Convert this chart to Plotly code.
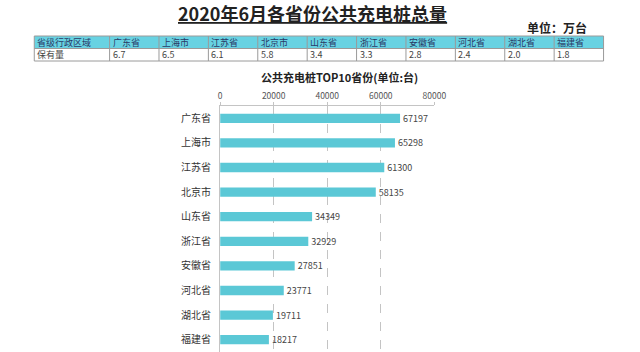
import plotly.graph_objects as go

provinces = ["广东省", "上海市", "江苏省", "北京市", "山东省", "浙江省", "安徽省", "河北省", "湖北省", "福建省"]
counts = [67197, 65298, 61300, 58135, 34349, 32929, 27851, 23771, 19711, 18217]
stock_wan = ["6.7", "6.5", "6.1", "5.8", "3.4", "3.3", "2.8", "2.4", "2.0", "1.8"]
table_head = "省级行政区域"
table_row = "保有量"
x_ticks = [0, 20000, 40000, 60000, 80000]

W, H = 640, 352
FONT = "Noto Sans CJK SC"

def px(x):
    return x / W

def py(y):
    return 1 - y / H

fig = go.Figure()

fig.add_trace(go.Bar(
    x=counts, y=provinces, orientation="h",
    marker=dict(color="#5bc8d6", line=dict(width=0)),
    width=0.38,
    text=[str(c) for c in counts], textposition="outside",
    textfont=dict(family=FONT, size=9, color="#444"),
    constraintext="none",
    cliponaxis=False,
))

# ---- table drawn with shapes + annotations (paper coords built from arrays) ----
tbl_left, first_w, col_w = 33, 77, 50.5
row_top, row_h = 36, 12.5
headers = [table_head] + provinces
row_vals = [table_row] + stock_wan
col_edges = [tbl_left, tbl_left + first_w] + [tbl_left + first_w + col_w * (i + 1) for i in range(len(provinces))]
tbl_right = col_edges[-1]
shapes = []
annots = []
line_c = "#9a9a9a"
shapes.append(dict(type="rect", xref="paper", yref="paper",
                   x0=px(tbl_left), x1=px(tbl_right), y0=py(row_top + row_h), y1=py(row_top),
                   fillcolor="#68d2e2", line=dict(width=0), layer="below"))
for r in range(3):
    yy = row_top + r * row_h
    shapes.append(dict(type="line", xref="paper", yref="paper",
                       x0=px(tbl_left), x1=px(tbl_right), y0=py(yy), y1=py(yy),
                       line=dict(color=line_c, width=1)))
for xe in col_edges:
    shapes.append(dict(type="line", xref="paper", yref="paper",
                       x0=px(xe), x1=px(xe), y0=py(row_top), y1=py(row_top + 2 * row_h),
                       line=dict(color=line_c, width=1)))
for i in range(len(headers)):
    xl = col_edges[i] + 2
    annots.append(dict(text=headers[i], x=px(xl), y=py(row_top + row_h / 2),
                       xref="paper", yref="paper", xanchor="left", yanchor="middle",
                       showarrow=False, borderpad=0,
                       font=dict(family=FONT, size=9, color="#2a3a66")))
    annots.append(dict(text=row_vals[i], x=px(xl), y=py(row_top + row_h * 1.5),
                       xref="paper", yref="paper", xanchor="left", yanchor="middle",
                       showarrow=False, borderpad=0,
                       font=dict(family=FONT, size=9, color="#444")))

annots += [
    dict(text="<b><u>2020年6月各省份公共充电桩总量</u></b>", x=px(317), y=py(13),
         xref="paper", yref="paper", xanchor="center", yanchor="middle",
         showarrow=False, font=dict(family=FONT, size=18, color="#222")),
    dict(text="<b>单位：万台</b>", x=px(599), y=py(27.5),
         xref="paper", yref="paper", xanchor="right", yanchor="middle",
         showarrow=False, borderpad=0, font=dict(family=FONT, size=12, color="#222")),
    dict(text="<b>公共充电桩TOP10省份(单位:台)</b>", x=px(345), y=py(77),
         xref="paper", yref="paper", xanchor="center", yanchor="middle",
         showarrow=False, font=dict(family=FONT, size=11, color="#222")),
]

fig.update_layout(
    width=W, height=H,
    margin=dict(l=0, r=0, t=0, b=0),
    paper_bgcolor="white", plot_bgcolor="white",
    showlegend=False,
    font=dict(family=FONT),
    shapes=shapes,
    annotations=annots,
    xaxis=dict(
        domain=[px(223), px(442)], side="top", range=[0, 80000],
        tickvals=x_ticks, tickformat="d",
        showgrid=True, gridcolor="#c4c4c4", griddash="dash", gridwidth=1,
        showline=True, linecolor="#c4c4c4", zeroline=False,
        ticks="outside", ticklen=3, tickcolor="#c4c4c4",
        tickfont=dict(family=FONT, size=8.5, color="#555"),
        fixedrange=True,
    ),
    yaxis=dict(
        domain=[0, py(106)], autorange="reversed",
        showline=True, linecolor="#c4c4c4", showgrid=False,
        ticks="", ticklabelstandoff=6,
        tickfont=dict(family=FONT, size=10, color="#333"),
    ),
)

fig.write_html("out.html")
